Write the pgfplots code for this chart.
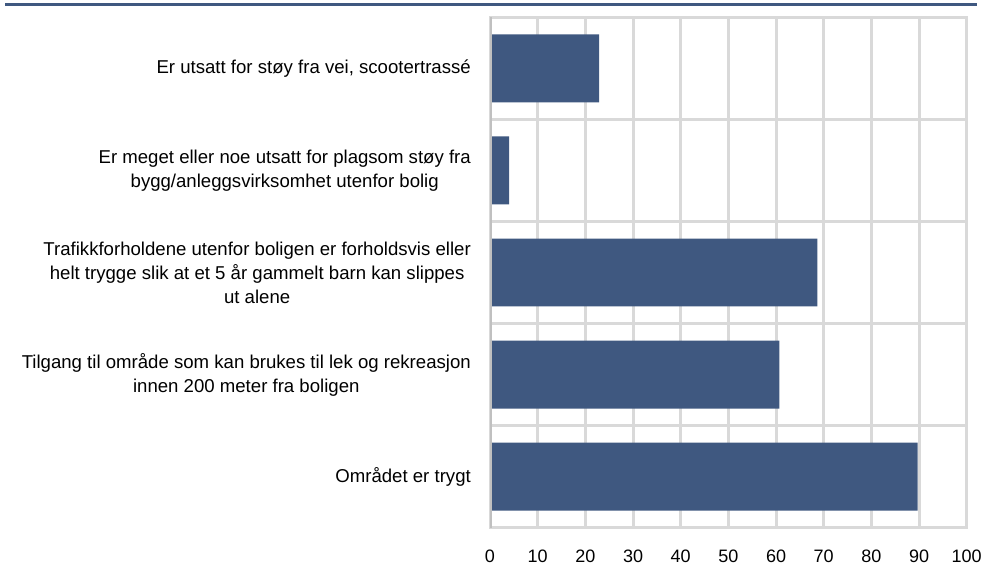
\documentclass[border=0pt]{standalone}
\usepackage{fontspec}
\setmainfont{Liberation Sans}
\usepackage{pgfplots}
\pgfplotsset{compat=1.18}
\definecolor{barblue}{HTML}{3F5880}
\definecolor{gridgray}{HTML}{D9D9D9}
\definecolor{axisgray}{HTML}{C0C0C0}
\begin{document}
\begin{tikzpicture}
\path[use as bounding box] (0pt,0pt) rectangle (987pt,565pt);
\draw[barblue, line width=3pt] (5pt,560.5pt) -- (977pt,560.5pt);
\begin{axis}[
  at={(490pt,37.3pt)}, anchor=south west,
  scale only axis, width=476.7pt, height=510.4pt,
  xmin=0, xmax=100, ymin=0.5, ymax=5.5,
  xtick={0,10,...,100},
  ytick={1,2,3,4,5},
  yticklabels={
    {Området er trygt},
    {Tilgang til område som kan brukes til lek og rekreasjon\\innen 200 meter fra boligen},
    {Trafikkforholdene utenfor boligen er forholdsvis eller\\helt trygge slik at et 5 år gammelt barn kan slippes\\ut alene},
    {Er meget eller noe utsatt for plagsom støy fra\\bygg/anleggsvirksomhet utenfor bolig},
    {Er utsatt for støy fra vei, scootertrassé}
  },
  minor ytick={0.5,1.5,2.5,3.5,4.5,5.5},
  xmajorgrids, yminorgrids,
  major grid style={gridgray, line width=3pt},
  minor grid style={gridgray, line width=3pt},
  axis line style={gridgray, line width=3pt},
  major tick length=0pt, minor tick length=0pt,
  tick style={draw=none},
  xbar, bar width=0.666,
  /pgf/number format/assume math mode=true,
  xticklabel style={font=\fontsize{18}{20}\selectfont, inner sep=0pt, yshift=-22.5pt},
  yticklabel style={font=\fontsize{18.6}{24}\selectfont, align=center, inner sep=0pt, xshift=-19pt},
]
\addplot[fill=barblue, draw=none] coordinates {
  (89.7,1) (60.7,2) (68.7,3) (4.0,4) (22.9,5)
};
\draw[axisgray, line width=3pt] (rel axis cs:0,0) -- (rel axis cs:0,1);
\end{axis}
\end{tikzpicture}
\end{document}
